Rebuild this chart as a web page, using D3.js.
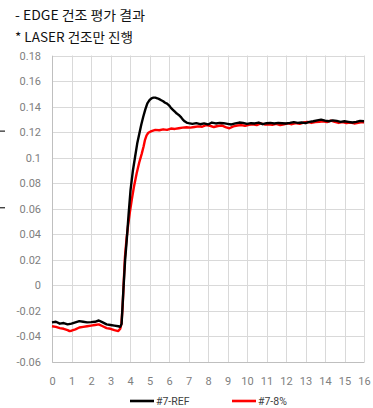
<!DOCTYPE html>
<html>
<head>
<meta charset="utf-8">
<script src="https://cdn.jsdelivr.net/npm/d3@7"></script>
<style>
  body { margin: 0; background: #fff; }
  svg { display: block; }
  .tick text { font-family: Roboto, "Noto Sans", sans-serif; font-size: 11px; fill: #808080; }
</style>
</head>
<body>
<script>
const titleLines = ['- EDGE 건조 평가 결과', '* LASER 건조만 진행'];
const xTicks = d3.range(0, 17);
const yTicks = [-0.06, -0.04, -0.02, 0, 0.02, 0.04, 0.06, 0.08, 0.1, 0.12, 0.14, 0.16, 0.18];
const seriesNames = ['#7-REF', '#7-8%'];
const seriesColors = ['#000000', '#ff0000'];

// #7-REF  [time, value]
const refSeries = [
  [0, -0.029], [0.2, -0.0285], [0.4, -0.030], [0.6, -0.0295], [0.8, -0.0305], [1.0, -0.030],
  [1.2, -0.029], [1.4, -0.028], [1.6, -0.0285], [1.8, -0.029], [2.0, -0.0288], [2.2, -0.0285],
  [2.4, -0.0275], [2.6, -0.029], [2.8, -0.0305], [3.0, -0.031], [3.2, -0.0315], [3.4, -0.032],
  [3.5, -0.0325], [3.57, -0.030], [3.66, -0.004], [3.75, 0.020], [3.83, 0.035], [3.93, 0.056],
  [4.03, 0.075], [4.15, 0.090], [4.26, 0.1005], [4.37, 0.111], [4.48, 0.119], [4.58, 0.126],
  [4.68, 0.132], [4.79, 0.138], [4.89, 0.1425], [5.0, 0.145], [5.1, 0.1465], [5.2, 0.147],
  [5.3, 0.147], [5.4, 0.1465], [5.5, 0.1458], [5.6, 0.145], [5.7, 0.1442], [5.8, 0.143],
  [5.9, 0.1423], [6.0, 0.141], [6.1, 0.139], [6.2, 0.1375], [6.3, 0.136], [6.4, 0.1345],
  [6.5, 0.1335], [6.6, 0.132], [6.7, 0.130], [6.8, 0.1285], [6.9, 0.1275], [7.0, 0.127],
  [7.2, 0.1265], [7.4, 0.127], [7.6, 0.1262], [7.8, 0.1268], [8.0, 0.126], [8.2, 0.1275],
  [8.4, 0.1268], [8.6, 0.1272], [8.8, 0.127], [9.0, 0.1265], [9.2, 0.126], [9.4, 0.1268],
  [9.6, 0.1275], [9.8, 0.1272], [10.0, 0.1265], [10.2, 0.127], [10.4, 0.1268], [10.6, 0.1275],
  [10.8, 0.1262], [11.0, 0.127], [11.2, 0.1272], [11.4, 0.1268], [11.6, 0.1272], [11.8, 0.127],
  [12.0, 0.1268], [12.2, 0.1272], [12.4, 0.1278], [12.6, 0.1272], [12.8, 0.1275], [13.0, 0.127],
  [13.2, 0.128], [13.4, 0.1285], [13.6, 0.1292], [13.8, 0.1298], [14.0, 0.129], [14.2, 0.1285],
  [14.4, 0.1292], [14.6, 0.1288], [14.8, 0.128], [15.0, 0.1285], [15.2, 0.128], [15.4, 0.1275],
  [15.6, 0.128], [15.8, 0.1288], [16.0, 0.1285]
];

// #7-8%  [time, value]
const pctSeries = [
  [0, -0.032], [0.2, -0.0325], [0.4, -0.0335], [0.6, -0.034], [0.8, -0.035], [0.9, -0.0358],
  [1.0, -0.0355], [1.2, -0.0345], [1.4, -0.033], [1.6, -0.0325], [1.8, -0.032], [2.0, -0.0315],
  [2.2, -0.031], [2.4, -0.0305], [2.6, -0.032], [2.8, -0.0335], [3.0, -0.034], [3.2, -0.035],
  [3.4, -0.0358], [3.5, -0.034], [3.56, -0.030], [3.62, -0.017], [3.68, 0.003], [3.74, 0.022],
  [3.82, 0.036], [3.91, 0.048], [4.0, 0.058], [4.09, 0.067], [4.2, 0.077], [4.34, 0.0876],
  [4.47, 0.096], [4.6, 0.103], [4.7, 0.109], [4.77, 0.114], [4.85, 0.1175], [4.94, 0.1195],
  [5.1, 0.1208], [5.3, 0.1218], [5.5, 0.1215], [5.7, 0.1222], [5.9, 0.1218], [6.1, 0.1228],
  [6.3, 0.1225], [6.5, 0.123], [6.7, 0.1235], [6.9, 0.1238], [7.1, 0.1235], [7.3, 0.124],
  [7.5, 0.1245], [7.7, 0.1242], [7.9, 0.1255], [8.1, 0.125], [8.3, 0.124], [8.5, 0.1248],
  [8.7, 0.1252], [8.9, 0.124], [9.1, 0.123], [9.3, 0.1245], [9.5, 0.1252], [9.7, 0.1255],
  [9.9, 0.125], [10.1, 0.1258], [10.3, 0.1262], [10.5, 0.1255], [10.7, 0.1268], [10.9, 0.126],
  [11.1, 0.1262], [11.3, 0.1258], [11.5, 0.1265], [11.7, 0.1255], [11.9, 0.1262], [12.1, 0.1268],
  [12.3, 0.1262], [12.5, 0.127], [12.7, 0.1265], [12.9, 0.1275], [13.1, 0.128], [13.3, 0.1272],
  [13.5, 0.1278], [13.7, 0.128], [13.9, 0.1285], [14.1, 0.1278], [14.3, 0.129], [14.5, 0.128],
  [14.7, 0.1272], [14.9, 0.1278], [15.1, 0.127], [15.3, 0.1275], [15.5, 0.1268], [15.7, 0.1272],
  [15.9, 0.1278], [16.0, 0.1275]
];

const width = 373, height = 408;
const plot = {left: 52, right: 364, top: 55.5, bottom: 362};

const x = d3.scaleLinear().domain([0, 16]).range([plot.left, plot.right]);
const y = d3.scaleLinear().domain([-0.06, 0.18]).range([plot.bottom, plot.top]);

const svg = d3.select('body').append('svg')
  .attr('width', width)
  .attr('height', height);

// title
svg.selectAll('.title')
  .data(titleLines)
  .enter().append('text')
  .attr('class', 'title')
  .attr('x', 15)
  .attr('y', (d, i) => 20 + i * 21.5)
  .attr('textLength', (d, i) => i === 0 ? 130 : 118)
  .attr('lengthAdjust', 'spacingAndGlyphs')
  .style('font-family', '"Noto Sans CJK KR", "Noto Sans", sans-serif')
  .style('font-size', '13px')
  .style('fill', '#111')
  .text(d => d);

// stray marks on the left edge
svg.selectAll('.edge-mark')
  .data([0.12, 0.06])
  .enter().append('line')
  .attr('x1', 0).attr('x2', 5)
  .attr('y1', d => y(d) - 1).attr('y2', d => y(d) - 1)
  .attr('stroke', '#222')
  .attr('stroke-width', 1.2);

// grid
const grid = svg.append('g').attr('class', 'grid');
grid.selectAll('.hgrid')
  .data(yTicks)
  .enter().append('line')
  .attr('x1', plot.left).attr('x2', plot.right)
  .attr('y1', d => Math.round(y(d)) + 0.5).attr('y2', d => Math.round(y(d)) + 0.5)
  .attr('stroke', '#d9d9d9');
grid.selectAll('.vgrid')
  .data(xTicks)
  .enter().append('line')
  .attr('x1', d => Math.round(x(d)) + 0.5).attr('x2', d => Math.round(x(d)) + 0.5)
  .attr('y1', plot.top).attr('y2', plot.bottom)
  .attr('stroke', '#d9d9d9');

// axes
const yAxis = svg.append('g')
  .attr('transform', `translate(${plot.left}, 0)`)
  .call(d3.axisLeft(y).tickValues(yTicks).tickSize(0).tickPadding(11).tickFormat(d => String(+d.toFixed(2))));
yAxis.select('.domain').attr('stroke', '#bfbfbf');

const xAxis = svg.append('g')
  .attr('transform', `translate(0, ${plot.bottom})`)
  .call(d3.axisBottom(x).tickValues(xTicks).tickSize(0).tickPadding(15).tickFormat(d3.format('d')));
xAxis.select('.domain').attr('stroke', '#bfbfbf');

// series
const line = d3.line()
  .x(d => x(d[0]))
  .y(d => y(d[1]));

[pctSeries, refSeries].forEach((s, i) => {
  const idx = i === 0 ? 1 : 0;
  svg.append('path')
    .datum(s)
    .attr('fill', 'none')
    .attr('stroke', seriesColors[idx])
    .attr('stroke-width', 2.4)
    .attr('stroke-linejoin', 'round')
    .attr('d', line);
});

// legend
const legend = svg.append('g').attr('class', 'legend');
const legendX = [130, 232];
seriesNames.forEach((name, i) => {
  legend.append('line')
    .attr('x1', legendX[i]).attr('x2', legendX[i] + 24)
    .attr('y1', 401).attr('y2', 401)
    .attr('stroke', seriesColors[i])
    .attr('stroke-width', 2.6);
  legend.append('text')
    .attr('x', legendX[i] + 26)
    .attr('y', 405)
    .style('font-family', 'Roboto, "Noto Sans", sans-serif')
    .style('font-size', '10.5px')
    .style('fill', '#404040')
    .text(name);
});
</script>
</body>
</html>
